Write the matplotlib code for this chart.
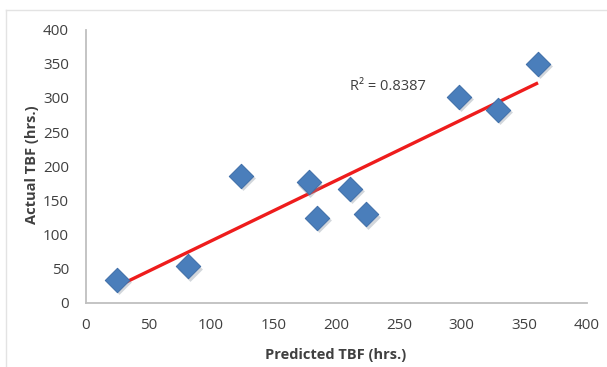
import numpy as np
import matplotlib
matplotlib.use("Agg")
import matplotlib.pyplot as plt
import matplotlib.transforms as mtransforms

# Predicted vs actual time between failures (hours)
predicted_tbf = [25, 82, 124, 178, 185, 211, 224, 298, 329, 361]
actual_tbf = [34, 54, 186, 177, 125, 167, 130, 302, 283, 350]
r_squared_text = "R\u00b2 = 0.8387"
ticks = [0, 50, 100, 150, 200, 250, 300, 350, 400]

plt.rcParams["font.family"] = ["Open Sans", "DejaVu Sans"]
text_color = "#404040"

fig = plt.figure(figsize=(6.07, 3.67), dpi=100)
ax = fig.add_axes([0.1409, 0.1744, 0.826, 0.745])

x = np.array(predicted_tbf, dtype=float)
y = np.array(actual_tbf, dtype=float)

# Linear least-squares trendline across the data range
slope, intercept = np.polyfit(x, y, 1)
xs = np.array([x.min(), x.max()])
ax.plot(xs, slope * xs + intercept, color="#ee1c1c", lw=2.4, zorder=2,
        solid_capstyle="butt")

# Soft drop shadow under the diamond markers
shadow = mtransforms.offset_copy(ax.transData, fig=fig, x=1.2, y=-1.8,
                                 units="points")
ax.scatter(x, y, marker="D", s=160, color="#7f8a99", alpha=0.35,
           linewidths=0, transform=shadow, zorder=2.5)
ax.scatter(x, y, marker="D", s=155, color="#4a7ebb", edgecolors="#3f6ea8",
           linewidths=0.7, zorder=3)

ax.text(211, 317, r_squared_text, fontsize=10.5, color=text_color,
        ha="left", va="center")

ax.set_xlim(0, 400)
ax.set_ylim(0, 400)
ax.set_xticks(ticks)
ax.set_yticks(ticks)
ax.tick_params(length=0, labelsize=11, colors=text_color)
ax.tick_params(axis="x", pad=11)
ax.tick_params(axis="y", pad=12)
for side in ("top", "right"):
    ax.spines[side].set_visible(False)
for side in ("left", "bottom"):
    ax.spines[side].set_color("#bfbfbf")
    ax.spines[side].set_linewidth(1.3)

ax.set_xlabel("Predicted TBF (hrs.)", fontsize=10.5, fontweight="bold",
              color=text_color)
ax.set_ylabel("Actual TBF (hrs.)", fontsize=10.5, fontweight="bold",
              color=text_color)
ax.xaxis.set_label_coords(0.4995, -0.164)
ax.yaxis.set_label_coords(-0.0927, 0.505)

# Light chart-area frame
fig.add_artist(plt.Line2D([0.01, 1.0], [0.973, 0.973], color="#e3e3e3", lw=1))
fig.add_artist(plt.Line2D([0.01, 0.01], [0.0, 0.973], color="#e3e3e3", lw=1))

fig.savefig("out.png", dpi=100)
